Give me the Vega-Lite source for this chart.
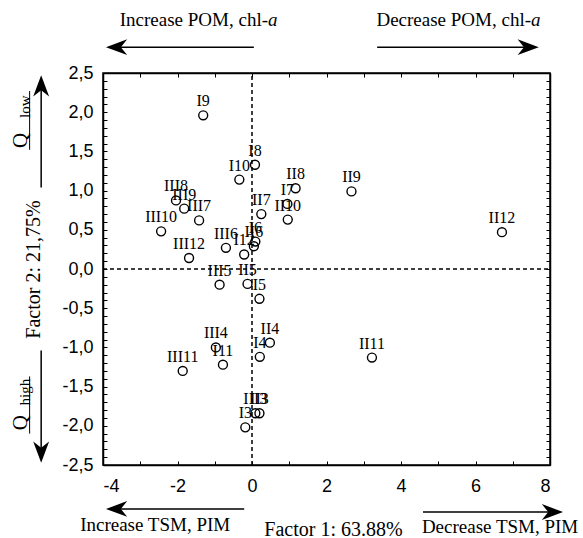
{
  "$schema": "https://vega.github.io/schema/vega-lite/v6.json",
  "width": 447,
  "height": 392,
  "autosize": {"type": "none"},
  "padding": {"left": 103, "top": 73, "right": 33, "bottom": 73},
  "background": "white",
  "config": {
    "view": {"stroke": "black", "strokeWidth": 1.5},
    "axis": {
      "domainColor": "black", "domainWidth": 1.5,
      "tickColor": "black", "tickWidth": 1, "tickSize": -4,
      "labelFont": "Liberation Sans", "labelFontSize": 18, "labelColor": "black",
      "titleFont": "Liberation Serif", "titleFontSize": 20, "titleFontWeight": "normal", "titleColor": "black",
      "grid": false
    }
  },
  "datasets": {
    "pts": [
      {"label": "I3", "x": -0.18, "y": -2.02},
      {"label": "I4", "x": 0.21, "y": -1.12},
      {"label": "I5", "x": 0.20, "y": -0.38},
      {"label": "I6", "x": 0.09, "y": 0.35},
      {"label": "I7", "x": 0.95, "y": 0.83},
      {"label": "I8", "x": 0.08, "y": 1.33},
      {"label": "I9", "x": -1.31, "y": 1.96},
      {"label": "I10", "x": -0.34, "y": 1.14},
      {"label": "I11", "x": -0.78, "y": -1.22},
      {"label": "I12", "x": -0.21, "y": 0.185},
      {"label": "II3", "x": 0.20, "y": -1.84},
      {"label": "II4", "x": 0.48, "y": -0.94},
      {"label": "II5", "x": -0.12, "y": -0.19},
      {"label": "II6", "x": 0.05, "y": 0.29},
      {"label": "II7", "x": 0.25, "y": 0.70},
      {"label": "II8", "x": 1.17, "y": 1.03},
      {"label": "II9", "x": 2.67, "y": 0.99},
      {"label": "II10", "x": 0.96, "y": 0.63},
      {"label": "II11", "x": 3.22, "y": -1.13},
      {"label": "II12", "x": 6.71, "y": 0.47},
      {"label": "III3", "x": 0.09, "y": -1.84},
      {"label": "III4", "x": -0.97, "y": -1.00},
      {"label": "III5", "x": -0.87, "y": -0.20},
      {"label": "III6", "x": -0.70, "y": 0.27},
      {"label": "III7", "x": -1.42, "y": 0.62},
      {"label": "III8", "x": -2.04, "y": 0.875},
      {"label": "III9", "x": -1.82, "y": 0.77},
      {"label": "III10", "x": -2.44, "y": 0.48},
      {"label": "III11", "x": -1.86, "y": -1.30},
      {"label": "III12", "x": -1.69, "y": 0.14}
    ],
    "zero": [
      {"x": 0, "y": -2.5, "x2": 0, "y2": 2.5},
      {"x": -4, "y": 0, "x2": 8, "y2": 0}
    ],
    "ann": [
      {"text": "Increase POM, chl-", "x": 0.43, "y": 3.18},
      {"text": "Decrease POM, chl-", "x": 7.49, "y": 3.18}
    ],
    "ital": [
      {"text": "a", "x": 0.43, "y": 3.18},
      {"text": "a", "x": 7.49, "y": 3.18}
    ],
    "ann2": [
      {"text": "Increase TSM, PIM", "x": -2.6, "y": -3.26},
      {"text": "Decrease TSM, PIM", "x": 6.66, "y": -3.29}
    ],
    "harrows": [
      {"x": -3.85, "x2": 0.05, "y": 2.83},
      {"x": 3.36, "x2": 7.6, "y": 2.83},
      {"x": -3.85, "x2": -0.21, "y": -3.06},
      {"x": 4.59, "x2": 8.28, "y": -3.1}
    ],
    "varrows": [
      {"x": -5.66, "y": 1.04, "y2": 2.4},
      {"x": -5.66, "y": -1.04, "y2": -2.4}
    ],
    "heads": [
      {"x": -3.92, "y": 2.83, "dir": "left"},
      {"x": 7.7, "y": 2.83, "dir": "right"},
      {"x": -3.92, "y": -3.06, "dir": "left"},
      {"x": 8.35, "y": -3.1, "dir": "right"},
      {"x": -5.66, "y": 2.47, "dir": "up"},
      {"x": -5.66, "y": -2.47, "dir": "down"}
    ],
    "qs": [
      {"text": "Q", "x": -6.2, "y": 1.64},
      {"text": "Q", "x": -6.2, "y": -1.96}
    ],
    "subs": [
      {"text": "low", "x": -6.09, "y": 2.07},
      {"text": "high", "x": -6.09, "y": -1.57}
    ],
    "ulines": [
      {"x": -5.97, "y": 2.27, "y2": 1.52},
      {"x": -5.97, "y": -1.37, "y2": -2.1}
    ]
  },
  "encoding": {
    "x": {"field": "x", "type": "quantitative", "scale": {"domain": [-4, 8], "nice": false, "zero": false}, "axis": null},
    "y": {"field": "y", "type": "quantitative", "scale": {"domain": [-2.5, 2.5], "nice": false, "zero": false}, "axis": null}
  },
  "resolve": {"axis": {"x": "independent", "y": "independent"}},
  "layer": [
    {
      "data": {"name": "zero"},
      "mark": {"type": "rule", "color": "black", "strokeWidth": 1.5, "strokeDash": [4, 3]},
      "encoding": {"x2": {"field": "x2"}, "y2": {"field": "y2"}}
    },
    {
      "data": {"name": "pts"},
      "mark": {"type": "point", "shape": "circle", "filled": false, "stroke": "black", "strokeWidth": 1.4, "size": 80, "opacity": 1},
      "encoding": {
        "x": {"field": "x", "type": "quantitative", "scale": {"domain": [-4, 8], "nice": false, "zero": false},
          "axis": {"orient": "bottom", "title": "Factor 1: 63.88%", "titlePadding": 24, "titleX": 230,
            "values": [-4, -3, -2, -1, 0, 1, 2, 3, 4, 5, 6, 7, 8],
            "labelPadding": 16,
            "labelExpr": "datum.value % 2 == 0 ? replace(format(datum.value, 'd'), '\u2212', '-') : ''"}},
        "y": {"field": "y", "type": "quantitative", "scale": {"domain": [-2.5, 2.5], "nice": false, "zero": false},
          "axis": {"orient": "left", "title": "Factor 2: 21,75%", "titlePadding": 18,
            "values": [-2.5, -2.4, -2.3, -2.2, -2.1, -2, -1.9, -1.8, -1.7, -1.6, -1.5, -1.4, -1.3, -1.2, -1.1, -1, -0.9, -0.8, -0.7, -0.6, -0.5, -0.4, -0.3, -0.2, -0.1, 0, 0.1, 0.2, 0.3, 0.4, 0.5, 0.6, 0.7, 0.8, 0.9, 1, 1.1, 1.2, 1.3, 1.4, 1.5, 1.6, 1.7, 1.8, 1.9, 2, 2.1, 2.2, 2.3, 2.4, 2.5],
            "labelPadding": 14,
            "labelExpr": "abs(datum.value * 2 - round(datum.value * 2)) < 0.001 ? replace(replace(format(datum.value, '.1f'), '.', ','), '\u2212', '-') : ''"}}
      }
    },
    {
      "data": {"name": "pts"},
      "mark": {"type": "text", "font": "Liberation Serif", "fontSize": 16, "color": "black", "dy": -14, "baseline": "middle", "align": "center"},
      "encoding": {
        "text": {"field": "label"},
        "x": {"field": "x", "type": "quantitative", "scale": {"domain": [-4, 8], "nice": false, "zero": false},
          "axis": {"orient": "top", "title": null, "labels": false, "values": [-4, -3, -2, -1, 0, 1, 2, 3, 4, 5, 6, 7, 8]}},
        "y": {"field": "y", "type": "quantitative", "scale": {"domain": [-2.5, 2.5], "nice": false, "zero": false},
          "axis": {"orient": "right", "title": null, "labels": false,
            "values": [-2.5, -2.4, -2.3, -2.2, -2.1, -2, -1.9, -1.8, -1.7, -1.6, -1.5, -1.4, -1.3, -1.2, -1.1, -1, -0.9, -0.8, -0.7, -0.6, -0.5, -0.4, -0.3, -0.2, -0.1, 0, 0.1, 0.2, 0.3, 0.4, 0.5, 0.6, 0.7, 0.8, 0.9, 1, 1.1, 1.2, 1.3, 1.4, 1.5, 1.6, 1.7, 1.8, 1.9, 2, 2.1, 2.2, 2.3, 2.4, 2.5]}}
      }
    },
    {
      "data": {"name": "ann"},
      "mark": {"type": "text", "font": "Liberation Serif", "fontSize": 19, "color": "black", "align": "right", "baseline": "middle"},
      "encoding": {"text": {"field": "text"}}
    },
    {
      "data": {"name": "ital"},
      "mark": {"type": "text", "font": "Liberation Serif", "fontSize": 19, "fontStyle": "italic", "color": "black", "align": "left", "baseline": "middle"},
      "encoding": {"text": {"field": "text"}}
    },
    {
      "data": {"name": "ann2"},
      "mark": {"type": "text", "font": "Liberation Serif", "fontSize": 19, "color": "black", "align": "center", "baseline": "middle"},
      "encoding": {"text": {"field": "text"}}
    },
    {
      "data": {"name": "harrows"},
      "mark": {"type": "rule", "color": "black", "strokeWidth": 1.5},
      "encoding": {"x2": {"field": "x2"}}
    },
    {
      "data": {"name": "varrows"},
      "mark": {"type": "rule", "color": "black", "strokeWidth": 1.5},
      "encoding": {"y2": {"field": "y2"}}
    },
    {
      "data": {"name": "ulines"},
      "mark": {"type": "rule", "color": "black", "strokeWidth": 1},
      "encoding": {"y2": {"field": "y2"}}
    },
    {
      "data": {"name": "heads"},
      "mark": {"type": "point", "filled": true, "color": "black", "size": 450, "opacity": 1, "strokeWidth": 0},
      "encoding": {
        "shape": {"field": "dir", "type": "nominal", "legend": null,
          "scale": {"domain": ["left", "right", "up", "down"],
            "range": ["M0,0L2,-0.75L1.4,0L2,0.75Z", "M0,0L-2,-0.75L-1.4,0L-2,0.75Z", "M0,0L-0.75,2L0,1.4L0.75,2Z", "M0,0L-0.75,-2L0,-1.4L0.75,-2Z"]}}
      }
    },
    {
      "data": {"name": "qs"},
      "mark": {"type": "text", "font": "Liberation Serif", "fontSize": 21, "color": "black", "angle": 270, "align": "center", "baseline": "middle"},
      "encoding": {"text": {"field": "text"}}
    },
    {
      "data": {"name": "subs"},
      "mark": {"type": "text", "font": "Liberation Serif", "fontSize": 15, "color": "black", "angle": 270, "align": "center", "baseline": "middle"},
      "encoding": {"text": {"field": "text"}}
    }
  ]
}
